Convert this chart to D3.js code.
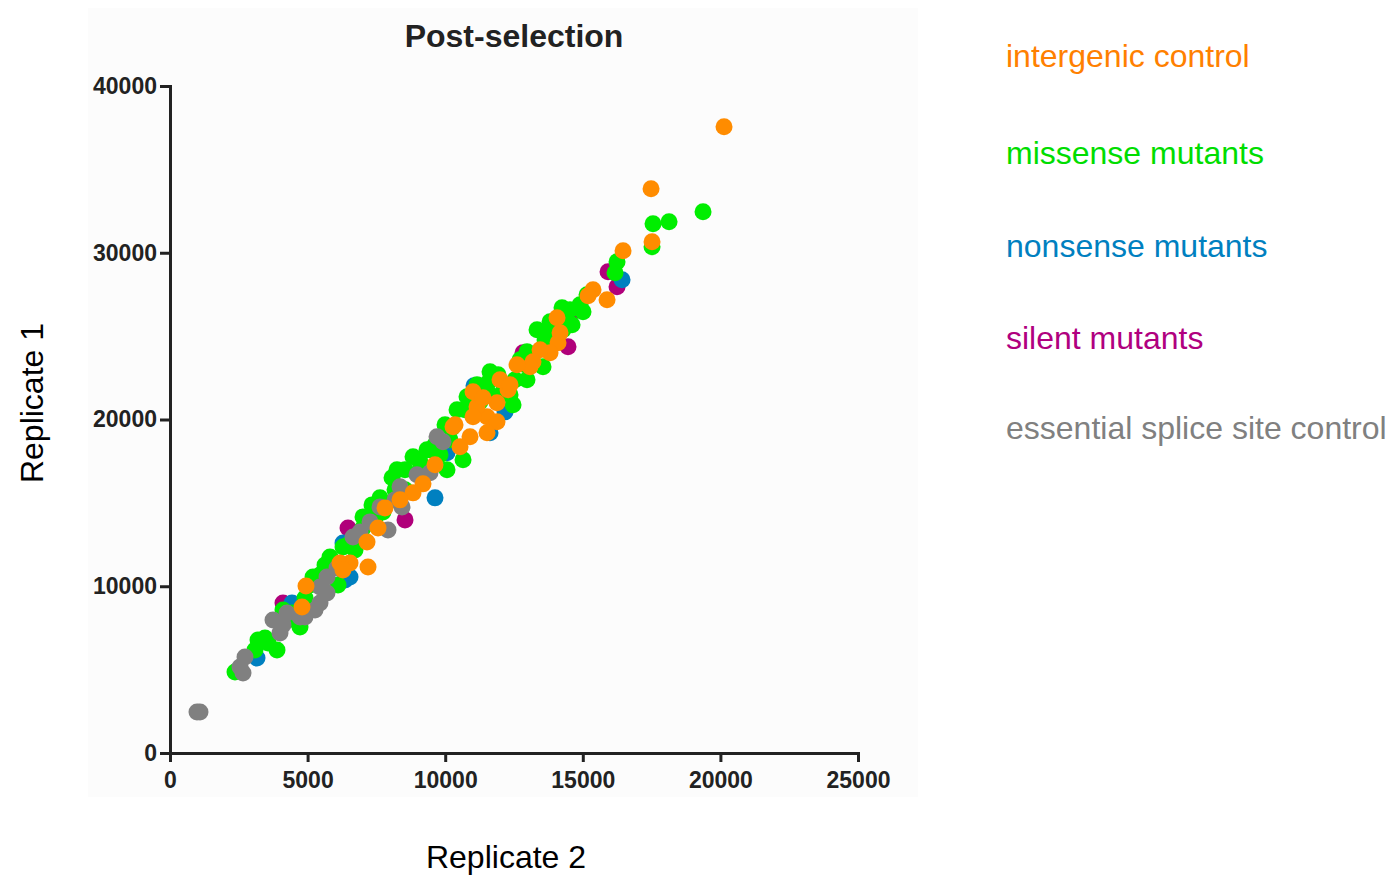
<!DOCTYPE html>
<html lang="en">
<head>
<meta charset="utf-8">
<title>Post-selection</title>
<script src="https://d3js.org/d3.v7.min.js"></script>
<style>
  body { margin: 0; background: #fff; }
  svg text { font-family: "Liberation Sans", Arial, Helvetica, sans-serif; }
  .axis path, .axis line { stroke: #222; stroke-width: 3; }
  .axis text { font-size: 23px; font-weight: bold; fill: #222; }
</style>
</head>
<body>
<script>
// categories (drawn bottom to top), legend order differs
var legendNames = ["intergenic control", "missense mutants", "nonsense mutants", "silent mutants", "essential splice site control"];
var legendColors = ["#ff8000", "#00dd00", "#0080c0", "#b0007f", "#808080"];
var dotColors = {
  "intergenic control": "#ff8c00",
  "missense mutants": "#00ee00",
  "nonsense mutants": "#0080c0",
  "silent mutants": "#b0007a",
  "essential splice site control": "#808080"
};

var xTicks = [0, 5000, 10000, 15000, 20000, 25000];
var yTicks = [0, 10000, 20000, 30000, 40000];

// Replicate 2 (x) / Replicate 1 (y)
var silentX = [15917, 16244, 14463, 12828, 14645, 8540, 6469, 4106, 11193];
var silentY = [28860, 27960, 24360, 24000, 26460, 13980, 13500, 9000, 21180];

var nonsenseX = [16426, 9630, 3162, 6541, 6287, 4433, 11629, 12174, 10066, 7450, 6360, 11047];
var nonsenseY = [28380, 15300, 5700, 10560, 12600, 9000, 19200, 20460, 18000, 14580, 10380, 22020];

var missenseX = [19369, 18134, 17552, 17516, 16244, 16171, 15154, 15008, 14609, 14245, 13809, 13337,
  13555, 12973, 12973, 11920, 11156, 10793, 12465, 11011, 10430, 10066, 10648, 9339, 8831, 8249,
  7341, 6287, 5814, 5342, 6105, 4906, 4724, 3888, 3452, 2362, 3561, 4433, 5197, 7450, 7740, 6905,
  6723, 8540, 9085, 9812, 10175, 11629, 12719, 13628, 14354, 11265, 12101, 4288, 5633, 7014, 9630,
  3198, 14899, 4106, 5633, 6469, 7014, 7631, 8068, 9085, 9448, 10248, 10720, 10902, 11629, 12356,
  12537, 12901, 13737, 14282, 14536, 5088, 5451, 8177, 8540, 9994, 11556, 3089];
var missenseY = [32460, 31860, 31740, 30360, 29460, 28800, 27480, 26460, 25680, 26700, 25860, 25380,
  23160, 24060, 22380, 22680, 22080, 21360, 20880, 20580, 20580, 16980, 17580, 18180, 17760, 16980,
  14880, 12360, 11760, 10380, 10080, 9300, 7560, 6180, 6900, 4860, 6600, 8400, 10560, 14100, 14460, 12780,
  12180, 15780, 16980, 17880, 18780, 21480, 23580, 24780, 25980, 21060, 21660, 7980, 11280, 13500, 18480,
  6780, 26880, 8580, 10980, 12480, 14160, 15300, 16500, 17460, 18180, 19500, 20580, 21180, 22860, 21480,
  22380, 23280, 25080, 25380, 26580, 10080, 10680, 15780, 16980, 19680, 22200, 6180];

var essentialX = [981, 1090, 2653, 2544, 2726, 3743, 3997, 4252, 4724, 4106, 4906, 5451, 5451, 5705,
  6069, 5705, 6650, 7268, 7922, 7631, 8431, 8358, 8976, 9448, 9703, 9921, 6905, 8177, 5269];
var essentialY = [2460, 2460, 4800, 5160, 5760, 7980, 7200, 8400, 8160, 7680, 8160, 9000, 9960, 9600,
  11100, 10560, 12960, 13860, 13380, 14760, 14760, 15960, 16680, 16800, 18960, 18660, 13260, 15180, 8580];

var intergenicX = [20132, 17480, 17516, 16462, 15881, 15372, 15190, 14064, 14173, 14100, 13809, 13446,
  13191, 13082, 12610, 11992, 12283, 11883, 11520, 11011, 11156, 11011, 11883, 11520, 10902, 10539,
  10357, 9630, 9194, 8831, 8358, 7813, 7559, 7159, 7195, 6541, 6178, 6287, 4942, 4797, 10284, 12356, 11374];
var intergenicY = [37560, 33840, 30660, 30120, 27180, 27780, 27420, 26100, 25200, 24600, 24000, 24180,
  23460, 23160, 23280, 22380, 21780, 21000, 20160, 21660, 20760, 20160, 19860, 19200, 18960, 18360,
  19680, 17280, 16140, 15600, 15180, 14700, 13500, 12660, 11160, 11400, 11400, 10980, 10020, 8760, 19560, 22080, 21300];

var series = [
  { name: "silent mutants", x: silentX, y: silentY },
  { name: "nonsense mutants", x: nonsenseX, y: nonsenseY },
  { name: "missense mutants", x: missenseX, y: missenseY },
  { name: "essential splice site control", x: essentialX, y: essentialY },
  { name: "intergenic control", x: intergenicX, y: intergenicY }
];

var W = 1395, H = 877;
var svg = d3.select("body").append("svg")
  .attr("width", W)
  .attr("height", H);

// light panel behind the plot
svg.append("rect")
  .attr("x", 88).attr("y", 8)
  .attr("width", 830).attr("height", 789)
  .attr("fill", "#fcfcfc");

var x = d3.scaleLinear().domain([0, 25000]).range([170, 858]);
var y = d3.scaleLinear().domain([0, 40000]).range([753, 86]);

// points
var gDots = svg.append("g");
series.forEach(function(s) {
  gDots.append("g")
    .selectAll("circle")
    .data(s.x.map(function(v, i) { return [v, s.y[i]]; }))
    .enter()
    .append("circle")
    .attr("cx", function(d) { return x(d[0]); })
    .attr("cy", function(d) { return y(d[1]); })
    .attr("r", 8.5)
    .attr("fill", dotColors[s.name]);
});

// axes
svg.append("g")
  .attr("class", "axis")
  .attr("transform", "translate(0,753)")
  .call(d3.axisBottom(x).tickValues(xTicks).tickFormat(d3.format("d")).tickSizeOuter(0).tickSize(9).tickPadding(10));

svg.append("g")
  .attr("class", "axis")
  .attr("transform", "translate(170,0)")
  .call(d3.axisLeft(y).tickValues(yTicks).tickFormat(d3.format("d")).tickSizeOuter(0).tickSize(10).tickPadding(3));

// titles
svg.append("text")
  .attr("x", 514).attr("y", 47)
  .attr("text-anchor", "middle")
  .style("font-size", "32px").style("font-weight", "bold").style("fill", "#222")
  .text("Post-selection");

svg.append("text")
  .attr("x", 506).attr("y", 868)
  .attr("text-anchor", "middle")
  .style("font-size", "32px").style("fill", "#000")
  .text("Replicate 2");

svg.append("text")
  .attr("transform", "translate(43,403) rotate(-90)")
  .attr("text-anchor", "middle")
  .style("font-size", "32px").style("fill", "#000")
  .text("Replicate 1");

// legend
var legendY = [67, 164, 257, 349, 439];
svg.append("g").selectAll("text")
  .data(legendNames)
  .enter()
  .append("text")
  .attr("x", 1006)
  .attr("y", function(d, i) { return legendY[i]; })
  .style("font-size", "32px")
  .style("fill", function(d, i) { return legendColors[i]; })
  .text(function(d) { return d; });
</script>
</body>
</html>
